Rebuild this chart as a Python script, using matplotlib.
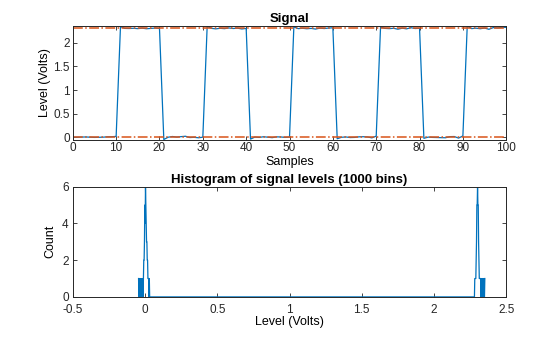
import numpy as np
import matplotlib
matplotlib.use('Agg')
import matplotlib.pyplot as plt

plt.rcParams['font.family'] = ['Liberation Sans', 'DejaVu Sans']

# sampled 2.3 V clock signal, samples 0..100 (low / high segments)
low0 = [0.0030, 0.0010, 0.0055, 0.0080, 0.0033, -0.0015, 0.0012, 0.0036, 0.0105, 0.0130, 0.0200]
high0 = [2.340, 2.3014, 2.2990, 2.3038, 2.2966, 2.3062, 2.2942, 2.3010, 2.3086, 2.2986]
low1 = [-0.046, 0.0028, 0.0175, 0.0052, 0.0150, 0.023, -0.0040, 0.0008, -0.0090, 0.0031]
high1 = [2.345, 2.3018, 2.2918, 2.3035, 2.2962, 2.3110, 2.2994, 2.3060, 2.2894, 2.3012]
low2 = [-0.038, 0.0058, -0.0018, 0.0125, 0.0035, -0.0065, 0.0102, 0.0078, -0.0012, 0.0057]
high2 = [2.335, 2.2968, 2.3042, 2.2940, 2.3016, 2.2870, 2.3066, 2.2988, 2.3084, 2.3134]
low3 = [-0.030, 0.0014, 0.0082, -0.0042, -0.0016, 0.0108, 0.0132, 0.0079, -0.0110, 0.025]
high3 = [2.328, 2.3020, 2.2964, 2.3040, 2.2846, 2.3058, 2.2920, 2.3158, 2.2992, 2.3036]
low4 = [-0.021, 0.0054, -0.0013, -0.0038, -0.0068, -0.0088, 0.0148, 0.0172, -0.016, 0.030]
high4 = [2.353, 2.2970, 2.3064, 2.2945, 2.3090, 2.2822, 2.3182, 2.3108, 2.3206, 2.3230]

signal = np.array(low0 + high0 + low1 + high1 + low2 + high2 + low3 + high3 + low4 + high4)
samples = np.arange(len(signal))

n_bins = 1000
counts, edges = np.histogram(signal, bins=n_bins)
centers = (edges[:-1] + edges[1:]) / 2

# state levels: mode of lower and upper half of the histogram
half = n_bins // 2
low_level = centers[np.argmax(counts[:half])]
high_level = centers[half + np.argmax(counts[half:])]

blue = '#0072BD'
orange = '#D95319'

fig = plt.figure(figsize=(5.6, 3.37), dpi=100)
ax1 = fig.add_axes([0.130, 0.586, 0.774, 0.337])
ax2 = fig.add_axes([0.130, 0.119, 0.774, 0.327])

ax1.plot(samples, signal, color=blue, lw=0.9)
ax1.axhline(low_level, color=orange, lw=1.1, ls='-.')
ax1.axhline(high_level, color=orange, lw=1.1, ls='-.')
ax1.set_xlim(0, 100)
ax1.set_ylim(signal.min(), signal.max())
ax1.set_xticks(np.arange(0, 101, 10))
ax1.set_yticks([0, 0.5, 1, 1.5, 2])
ax1.set_yticklabels(['0', '0.5', '1', '1.5', '2'])
ax1.set_title('Signal', fontsize=9.5, fontweight='bold', pad=3)
ax1.set_xlabel('Samples', fontsize=9, labelpad=1)
ax1.set_ylabel('Level (Volts)', fontsize=9, labelpad=2)

ax2.plot(centers, counts, color=blue, lw=0.9)
ax2.set_xlim(-0.5, 2.5)
ax2.set_ylim(0, counts.max())
ax2.set_xticks([-0.5, 0, 0.5, 1, 1.5, 2, 2.5])
ax2.set_xticklabels(['-0.5', '0', '0.5', '1', '1.5', '2', '2.5'])
ax2.set_yticks([0, 2, 4, 6])
ax2.set_title('Histogram of signal levels (1000 bins)', fontsize=9.5, fontweight='bold', pad=3)
ax2.set_xlabel('Level (Volts)', fontsize=9, labelpad=0)
ax2.set_ylabel('Count', fontsize=9, labelpad=4)

for ax in (ax1, ax2):
    ax.tick_params(direction='in', top=True, right=True, labelsize=8.5, length=3, width=0.6, pad=2, colors='#262626')
    for s in ax.spines.values():
        s.set_linewidth(0.7)
        s.set_color('#262626')
ax2.tick_params(axis='x', pad=5)
ax2.tick_params(axis='y', pad=3)
for lbl in ax2.get_yticklabels():
    lbl.set_verticalalignment('center_baseline')

fig.savefig('out.png', dpi=100)
